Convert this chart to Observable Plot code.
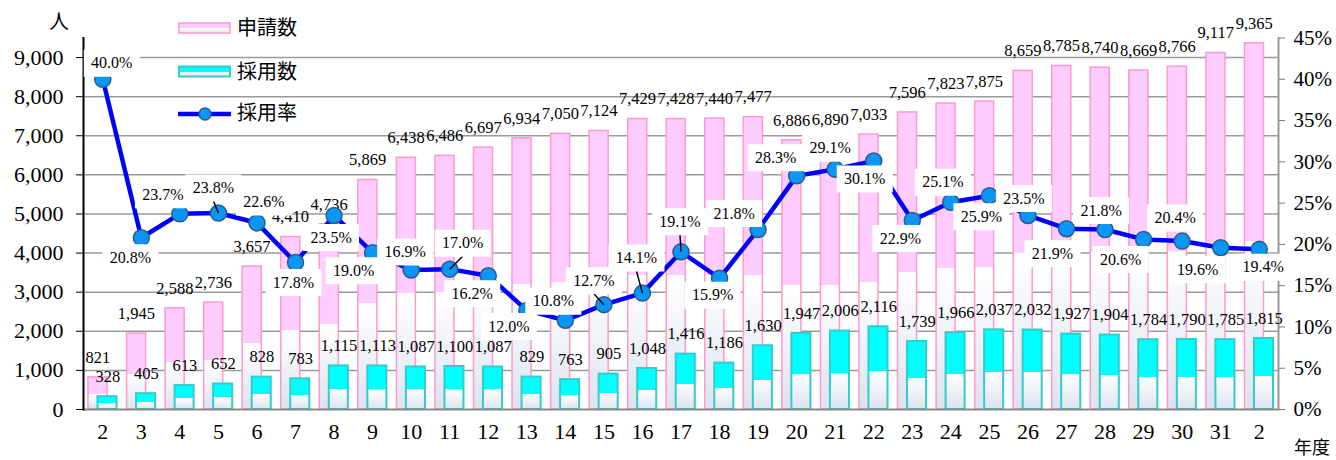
<!DOCTYPE html>
<html><head><meta charset="utf-8">
<script src="https://cdn.jsdelivr.net/npm/d3@7"></script>
<script src="https://cdn.jsdelivr.net/npm/@observablehq/plot@0.6"></script>
<style>
body{margin:0;background:#fff;}
#wrap{position:relative;width:1336px;height:460px;overflow:hidden;}
#wrap svg{position:absolute;left:0;top:0;}
.jp{position:absolute;font-family:"Noto Sans CJK JP","Noto Sans",sans-serif;color:#000;white-space:nowrap;}
</style></head><body><div id="wrap"></div>
<script>
// ---- data ----
const yearLabels = ["2","3","4","5","6","7","8","9","10","11","12","13","14","15","16","17","18","19","20","21","22","23","24","25","26","27","28","29","30","31","2"];
const applications = [821,1945,2588,2736,3657,4410,4736,5869,6438,6486,6697,6934,7050,7124,7429,7428,7440,7477,6886,6890,7033,7596,7823,7875,8659,8785,8740,8669,8766,9117,9365];
const hires = [328,405,613,652,828,783,1115,1113,1087,1100,1087,829,763,905,1048,1416,1186,1630,1947,2006,2116,1739,1966,2037,2032,1927,1904,1784,1790,1785,1815];
const hireRates = [40.0,20.8,23.7,23.8,22.6,17.8,23.5,19.0,16.9,17.0,16.2,12.0,10.8,12.7,14.1,19.1,15.9,21.8,28.3,29.1,30.1,22.9,25.1,25.9,23.5,21.9,21.8,20.6,20.4,19.6,19.4];
const leftTicks = [0,1000,2000,3000,4000,5000,6000,7000,8000,9000];
const rightTicks = [0,5,10,15,20,25,30,35,40,45];
const seriesNames = ["申請数","採用数","採用率"];
const yUnit = "人", xUnit = "年度";

// ---- scales ----
const Y_MAX = 9500, R_MAX = 45, K = Y_MAX / R_MAX;
const data = yearLabels.map((label, i) => ({i, label, app: applications[i], hire: hires[i], rate: hireRates[i], rv: hireRates[i] * K}));

// label placement (pixel offsets from each rate point)
const rateLabelOffsets = [[9,-16],[-11,20],[-17,-19],[-5,-25],[7,-21],[-2,20],[-3,22],[-19,18],[-6,-18],[13,-26],
  [-16,18],[-18,16],[-12,-19],[-10,-24],[-6,-35],[-1,-30],[-7,17],[-24,-16],[-21,-18],[-5,-21],
  [-9,18],[-12,18],[-8,-20],[-8,21],[-4,-17],[-14,25],[-4,-19],[-23,20],[-7,-23],[-23,22],[4,18]];
const leaderIdx = new Set([3,9,13,14,15]);

function makeGradients(defs) {
  const mk = (id, color) => {
    const g = defs.append("linearGradient").attr("id", id).attr("x1",0).attr("y1",0).attr("x2",0).attr("y2",1);
    [[0,color],[0.54,color],[0.54,"#ffffff"],[1,"#dce3ee"]].forEach(([o,c]) => g.append("stop").attr("offset",o).attr("stop-color",c));
  };
  mk("gradPink","#ffccff");
  mk("gradCyan","#00ffff");
}
const defsMark = () => { const d = d3.create("svg:defs"); makeGradients(d); return d.node(); };

const fmt = d3.format(",");
const boxSymbol = {draw(ctx){ ctx.rect(-28,-13.5,56,27); }};

const labelMarks = [];
data.forEach((d, i) => {
  const [dx, dy] = rateLabelOffsets[i];
  if (leaderIdx.has(i)) {
    const lx = dx, ly = dy + 13;
    labelMarks.push(Plot.dot([d], {x:"i", y:"rv", symbol:{draw(ctx){ ctx.moveTo(0,0); ctx.lineTo(lx,ly); }}, stroke:"#000", strokeWidth:1.5, fill:"none"}));
  }
  labelMarks.push(Plot.dot([d], {x:"i", y:"rv", dx, dy, symbol: boxSymbol, fill:"#fff", stroke:"none"}));
  labelMarks.push(Plot.text([d], {x:"i", y:"rv", dx, dy, text: d => d.rate.toFixed(1) + "%", fontSize:16}));
});

const chart = Plot.plot({
  width: 1336, height: 460,
  marginLeft: 83, marginRight: 58, marginTop: 37.5, marginBottom: 51,
  x: {type: "band", domain: data.map(d => d.i), padding: 0, round: false},
  y: {domain: [0, Y_MAX]},
  style: {fontFamily: '"Liberation Serif","DejaVu Serif",serif', fontSize: "16px", color: "#000", background: "transparent"},
  marks: [
    defsMark,
    Plot.gridY({ticks: leftTicks.slice(1), stroke: "#9a9a9a", strokeOpacity: 1, strokeWidth: 1.5}),
    Plot.barY(data, {x: "i", y: "app", fill: "url(#gradPink)", stroke: "#ff99cc", strokeWidth: 1.5, insetLeft: 5, insetRight: 14.5}),
    Plot.barY(data, {x: "i", y: "hire", fill: "url(#gradCyan)", stroke: "#33cccc", strokeWidth: 2, insetLeft: 14.5, insetRight: 5}),
    Plot.ruleY([0], {stroke: "#888", strokeWidth: 2}),
    Plot.frame({anchor: "left", stroke: "#000", strokeWidth: 2}),
    Plot.frame({anchor: "right", stroke: "#999", strokeWidth: 2}),
    Plot.text(data, {x: "i", y: "app", text: d => fmt(d.app), dx: -5, dy: -20, fontSize: 16.5}),
    Plot.text(data, {x: "i", y: "hire", text: d => fmt(d.hire), dx: 5, dy: -20, fontSize: 16.5}),
    Plot.line(data, {x: "i", y: "rv", stroke: "#0000ff", strokeWidth: 4.5}),
    Plot.dot(data, {x: "i", y: "rv", r: 8, fill: "#0a96f5", stroke: "#2e5c8a", strokeWidth: 1.5}),
    ...labelMarks,
    Plot.axisY({anchor: "left", ticks: leftTicks, tickFormat: fmt, tickSize: 7, tickPadding: 13, fontSize: 22, label: null}),
    Plot.axisY({anchor: "right", ticks: rightTicks.map(v => v * K), tickFormat: v => Math.round(v / K) + "%", tickSize: 6, tickPadding: 9, fontSize: 21, label: null, stroke: "#777"}),
    Plot.axisX({ticks: data.map(d => d.i), tickFormat: i => yearLabels[i], tickSize: 0, tickPadding: 14, fontSize: 22, label: null})
  ]
});
const wrap = document.getElementById("wrap");
wrap.appendChild(chart);

// ---- legend & unit labels ----
const leg = d3.select(wrap).append("svg").attr("width", 320).attr("height", 130).style("overflow","visible");
leg.append("rect").attr("x",179).attr("y",23).attr("width",51).attr("height",10).attr("fill","url(#gradPink)").attr("stroke","#ff99cc").attr("stroke-width",1.5);
leg.append("rect").attr("x",179).attr("y",66.5).attr("width",51).attr("height",10).attr("fill","url(#gradCyan)").attr("stroke","#33cccc").attr("stroke-width",2);
leg.append("line").attr("x1",178).attr("x2",231).attr("y1",114).attr("y2",114).attr("stroke","#0000ff").attr("stroke-width",4.5);
leg.append("circle").attr("cx",205).attr("cy",114).attr("r",6).attr("fill","#0a96f5").attr("stroke","#2e5c8a").attr("stroke-width",1.5);
[28, 72, 113].forEach((y, k) => {
  leg.append("text").attr("x",237).attr("y",y).attr("dy","0.36em").attr("font-size",20)
    .attr("font-family",'"Noto Sans CJK JP",sans-serif').text(seriesNames[k]);
});
const u1 = document.createElement("div"); u1.className = "jp"; u1.textContent = yUnit;
Object.assign(u1.style, {left:"49px", top:"10px", fontSize:"20px", lineHeight:"22px"}); wrap.appendChild(u1);
const u2 = document.createElement("div"); u2.className = "jp"; u2.textContent = xUnit;
Object.assign(u2.style, {left:"1294px", top:"436px", fontSize:"18px", lineHeight:"20px"}); wrap.appendChild(u2);
</script></body></html>
